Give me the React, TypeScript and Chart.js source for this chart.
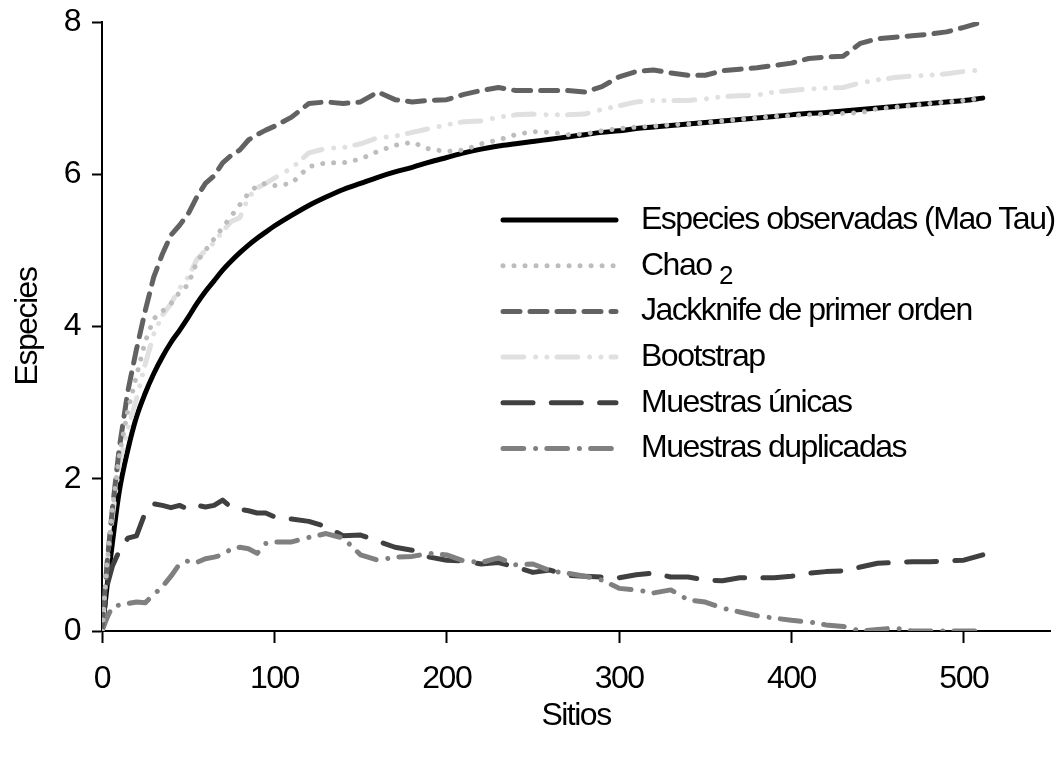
import { useEffect, useRef } from 'react';
import { Chart, registerables } from 'chart.js';

Chart.register(...registerables);

const FONT = '"Liberation Sans", Arial, Helvetica, sans-serif';
const FS = 32;
const SPACING = '-1.5px';

// Data
const sitios = [0, 3, 6, 10, 15, 20, 25, 30, 35, 40, 45, 50, 55, 60, 65, 70, 75, 80, 85, 90, 95, 100,
  110, 120, 130, 140, 150, 160, 170, 180, 190, 200, 210, 220, 230, 240, 250, 260, 270, 280, 290, 300,
  310, 320, 330, 340, 350, 360, 370, 380, 390, 400, 410, 420, 430, 440, 450, 460, 470, 480, 490, 500, 511];

const observadas = [0, 0.6, 1.15, 1.83, 2.38, 2.81, 3.12, 3.38, 3.6, 3.79, 3.95, 4.12, 4.3, 4.46, 4.6, 4.74, 4.86, 4.97, 5.07, 5.16, 5.24, 5.32,
  5.46, 5.59, 5.7, 5.8, 5.88, 5.96, 6.03, 6.09, 6.16, 6.22, 6.28, 6.33, 6.37, 6.4, 6.43, 6.46, 6.49, 6.52, 6.55, 6.57,
  6.6, 6.62, 6.64, 6.66, 6.68, 6.7, 6.72, 6.74, 6.76, 6.78, 6.8, 6.81, 6.83, 6.85, 6.87, 6.89, 6.91, 6.93, 6.95, 6.97, 7.0];

const chao2 = [0, 0.9, 1.6, 2.3, 2.9, 3.35, 3.8, 4.1, 4.2, 4.3, 4.45, 4.55, 4.85, 5.0, 5.15, 5.3, 5.45, 5.6, 5.75, 5.85, 5.88, 5.85,
  5.88, 6.1, 6.15, 6.15, 6.2, 6.3, 6.38, 6.42, 6.33, 6.3, 6.32, 6.4, 6.45, 6.52, 6.56, 6.55, 6.52, 6.53, 6.57, 6.6,
  6.62, 6.63, 6.65, 6.66, 6.68, 6.7, 6.72, 6.74, 6.76, 6.77, 6.78, 6.79, 6.8, 6.81, 6.86, 6.88, 6.9, 6.93, 6.95, 6.97, 7.0];

const jackknife1 = [0, 0.9, 1.6, 2.4, 3.15, 3.7, 4.2, 4.65, 4.95, 5.2, 5.33, 5.48, 5.7, 5.88, 5.98, 6.15, 6.25, 6.32, 6.45, 6.52, 6.58, 6.63,
  6.75, 6.93, 6.95, 6.93, 6.95, 7.08, 6.98, 6.95, 6.97, 6.98, 7.05, 7.1, 7.14, 7.1, 7.1, 7.1, 7.1, 7.08, 7.15, 7.28,
  7.35, 7.37, 7.33, 7.3, 7.3, 7.36, 7.38, 7.4, 7.43, 7.46, 7.52, 7.54, 7.55, 7.72, 7.78, 7.8, 7.82, 7.84, 7.87, 7.93, 8.0];

const bootstrap = [0, 0.9, 1.5, 2.2, 2.65, 3.05, 3.5, 3.9, 4.15, 4.3, 4.5, 4.65, 4.88, 5.0, 5.1, 5.25, 5.38, 5.43, 5.7, 5.82, 5.88, 5.95,
  6.08, 6.28, 6.34, 6.35, 6.4, 6.48, 6.5, 6.55, 6.6, 6.65, 6.69, 6.7, 6.75, 6.78, 6.79, 6.78, 6.78, 6.79, 6.85, 6.9,
  6.95, 6.97, 6.97, 6.97, 6.99, 7.02, 7.03, 7.04, 7.08, 7.1, 7.12, 7.13, 7.14, 7.2, 7.24, 7.27, 7.29, 7.3, 7.32, 7.35, 7.37];

const unicas = [0, 0.6, 0.85, 1.05, 1.22, 1.25, 1.55, 1.67, 1.65, 1.62, 1.65, 1.6, 1.65, 1.63, 1.65, 1.72, 1.62, 1.6, 1.58, 1.55, 1.55, 1.5,
  1.47, 1.44, 1.37, 1.25, 1.26, 1.18, 1.1, 1.06, 0.97, 0.93, 0.92, 0.88, 0.9, 0.84, 0.77, 0.8, 0.73, 0.72, 0.71, 0.7,
  0.74, 0.76, 0.71, 0.71, 0.67, 0.66, 0.7, 0.7, 0.7, 0.72, 0.76, 0.78, 0.79, 0.84, 0.89, 0.9, 0.91, 0.91, 0.92, 0.93, 1.0];

const duplicadas = [0, 0.18, 0.32, 0.34, 0.36, 0.38, 0.37, 0.48, 0.58, 0.72, 0.88, 0.92, 0.9, 0.95, 0.97, 1.0, 1.08, 1.1, 1.08, 1.02, 1.15, 1.17,
  1.17, 1.23, 1.28, 1.22, 1.0, 0.93, 0.97, 0.98, 1.02, 1.0, 0.92, 0.9, 0.96, 0.87, 0.88, 0.79, 0.76, 0.72, 0.67, 0.56,
  0.54, 0.5, 0.54, 0.41, 0.38, 0.3, 0.25, 0.2, 0.17, 0.14, 0.12, 0.08, 0.06, 0.0, 0.02, 0.04, 0.0, 0.0, 0.0, 0.0, 0.0];

const etiquetas = ['Especies observadas (Mao Tau)', 'Chao', 'Jackknife de primer orden', 'Bootstrap', 'Muestras únicas', 'Muestras duplicadas'];
const subindices = ['', '2', '', '', '', ''];

const xTicks = [0, 100, 200, 300, 400, 500];
const yTicks = [0, 2, 4, 6, 8];

const pts = (ys: number[]) => sitios.map((x, i) => ({ x, y: ys[i] }));

const spacingPlugin = {
  id: 'condensedText',
  beforeDraw(chart: any) {
    (chart.ctx as any).letterSpacing = SPACING;
  },
};

const legendPlugin = {
  id: 'customLegend',
  afterDatasetsDraw(chart: any) {
    const ctx = chart.ctx as CanvasRenderingContext2D;
    const x0 = 503, x1 = 616, tx = 641, y0 = 220, dy = 45.7;
    ctx.save();
    (ctx as any).letterSpacing = SPACING;
    chart.data.datasets.forEach((ds: any, i: number) => {
      const y = y0 + i * dy;
      ctx.beginPath();
      ctx.setLineDash(ds.borderDash || []);
      ctx.lineCap = 'round';
      ctx.strokeStyle = ds.borderColor;
      ctx.lineWidth = ds.borderWidth;
      ctx.moveTo(x0, y);
      ctx.lineTo(x1, y);
      ctx.stroke();
      ctx.setLineDash([]);
      ctx.fillStyle = '#000';
      ctx.font = `${FS}px ${FONT}`;
      ctx.textBaseline = 'middle';
      ctx.textAlign = 'left';
      const lab = etiquetas[i];
      ctx.fillText(lab, tx, y);
      if (subindices[i]) {
        const w = ctx.measureText(lab + ' ').width;
        ctx.font = `26px ${FONT}`;
        ctx.fillText(subindices[i], tx + w, y + 11);
      }
    });
    ctx.restore();
  },
};

export default function App() {
  const ref = useRef<HTMLCanvasElement>(null);
  useEffect(() => {
    document.body.style.margin = '0';
    const canvas = ref.current!;
    const common = {
      pointRadius: 0,
      borderCapStyle: 'round' as const,
      borderJoinStyle: 'round' as const,
      fill: false,
      tension: 0,
    };
    const chart = new Chart(canvas, {
      type: 'line',
      data: {
        datasets: [
          { ...common, label: etiquetas[0], data: pts(observadas), borderColor: '#000000', borderWidth: 5, borderDash: [], cubicInterpolationMode: 'monotone', order: 10 },
          { ...common, label: etiquetas[1], data: pts(chao2), borderColor: '#bdbdbd', borderWidth: 5, borderDash: [0.01, 11], order: 1 },
          { ...common, label: etiquetas[2], data: pts(jackknife1), borderColor: '#626262', borderWidth: 5, borderDash: [17, 10], order: 2 },
          { ...common, label: etiquetas[3], data: pts(bootstrap), borderColor: '#e0e0e0', borderWidth: 5, borderDash: [20.7, 11.9, 0.01, 11.3, 0.01, 10.1], order: 3 },
          { ...common, label: etiquetas[4], data: pts(unicas), borderColor: '#404040', borderWidth: 5, borderDash: [30, 18.3], order: 5 },
          { ...common, label: etiquetas[5], data: pts(duplicadas), borderColor: '#808080', borderWidth: 5, borderDash: [20.7, 11.9, 0.01, 11.2], order: 4 },
        ] as any,
      },
      options: {
        responsive: false,
        animation: false,
        devicePixelRatio: 1,
        layout: { padding: { top: 22, right: 14, left: 0, bottom: 0 } },
        plugins: { legend: { display: false }, tooltip: { enabled: false }, title: { display: false } },
        scales: {
          x: {
            type: 'linear',
            min: 0,
            max: 550,
            afterBuildTicks: (s: any) => { s.ticks = xTicks.map((v) => ({ value: v })); },
            afterFit: (s: any) => { s.height = 134; s.paddingLeft = 0; s.paddingRight = 0; },
            border: { display: true, color: '#000', width: 2 },
            grid: { display: true, drawOnChartArea: false, drawTicks: true, tickLength: 12, tickColor: '#000', tickWidth: 2 },
            ticks: { color: '#000', font: { family: FONT, size: FS }, padding: 17, maxRotation: 0 },
            title: { display: true, text: 'Sitios', color: '#000', font: { family: FONT, size: FS }, padding: { top: 0, bottom: 30 } },
          },
          y: {
            type: 'linear',
            min: 0,
            max: 8,
            afterBuildTicks: (s: any) => { s.ticks = yTicks.map((v) => ({ value: v })); },
            afterFit: (s: any) => { s.width = 102; s.paddingTop = 0; s.paddingBottom = 0; },
            border: { display: true, color: '#000', width: 2 },
            grid: { display: true, drawOnChartArea: false, drawTicks: true, tickLength: 10, tickColor: '#000', tickWidth: 2 },
            ticks: { color: '#000', font: { family: FONT, size: FS }, padding: 12 },
            title: { display: true, text: 'Especies', color: '#000', font: { family: FONT, size: FS }, padding: { top: 9, bottom: 0 } },
          },
        },
      } as any,
      plugins: [spacingPlugin, legendPlugin],
    });
    return () => chart.destroy();
  }, []);
  return (
    <div style={{ width: 1064, height: 765, background: '#fff' }}>
      <canvas ref={ref} width={1064} height={765} style={{ display: 'block', width: 1064, height: 765 }} />
    </div>
  );
}
